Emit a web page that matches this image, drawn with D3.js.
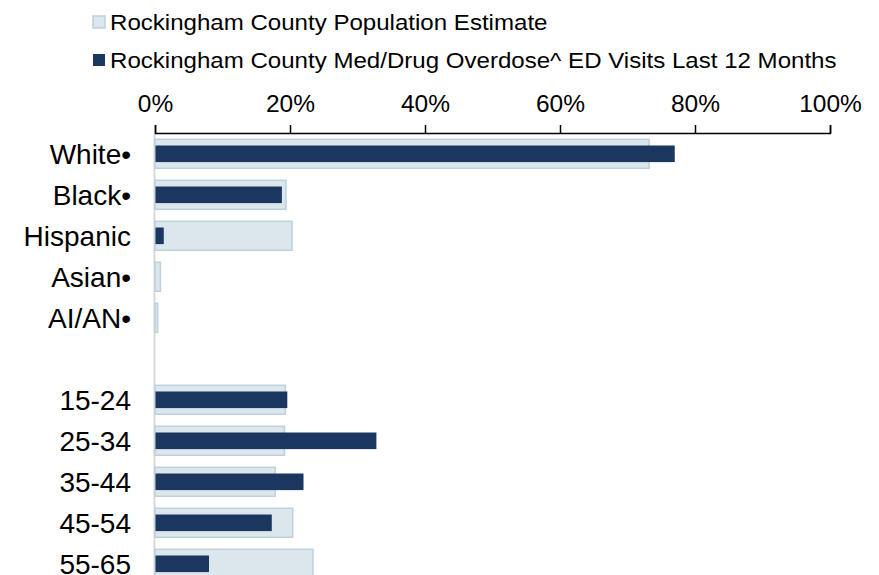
<!DOCTYPE html>
<html>
<head>
<meta charset="utf-8">
<script src="https://cdn.jsdelivr.net/npm/d3@7"></script>
<style>
  body { margin: 0; background: #fff; }
  text { font-family: "Liberation Sans", Arial, sans-serif; }
</style>
</head>
<body>
<script>
var width = 879, height = 575;

// categories, "" row is the gap between race and age groups
var categories = ["White•", "Black•", "Hispanic", "Asian•", "AI/AN•", "", "15-24", "25-34", "35-44", "45-54", "55-65"];
var populationPct = [73.2, 19.4, 20.3, 0.8, 0.4, null, 19.3, 19.2, 17.8, 20.4, 23.4];
var overdosePct = [77.0, 18.8, 1.3, 0, 0, null, 19.6, 32.8, 22.0, 17.3, 8.0];
var seriesNames = ["Rockingham County Population Estimate", "Rockingham County Med/Drug Overdose^ ED Visits Last 12 Months"];
var xTicks = [0, 20, 40, 60, 80, 100];

var lightFill = "#dce6ed", lightStroke = "#bdd0dc", darkFill = "#1b375f";

var svg = d3.select("body").append("svg").attr("width", width).attr("height", height);

var scaleX = d3.scaleLinear().domain([0, 100]).range([155, 830]);
var scaleY = d3.scaleBand().domain(categories.map(function(d, i){ return i; })).range([133.3, 133.3 + 41 * categories.length]).padding(0);

// legend
var legend = svg.selectAll("g.legend").data(seriesNames).enter().append("g")
    .attr("transform", function(d, i){ return "translate(92," + (22 + i * 38) + ")"; });
legend.append("rect").attr("x", 1).attr("y", -6).attr("width", 12).attr("height", 12)
    .attr("fill", function(d, i){ return i == 0 ? lightFill : darkFill; })
    .attr("stroke", function(d, i){ return i == 0 ? lightStroke : "none"; })
    .attr("stroke-width", 1.5);
// the legend text in the source is a bit wide, so stretch it sideways
legend.append("text").attr("transform", "translate(18,8) scale(1.095,1)")
    .attr("font-size", "22px").attr("fill", "#000").text(function(d){ return d; });

// vertical category axis line
svg.append("line").attr("x1", 154.5).attr("x2", 154.5).attr("y1", 133).attr("y2", height)
    .attr("stroke", "#d9d9d9").attr("stroke-width", 2);

// population bars (wide, light)
var band = scaleY.bandwidth();
svg.selectAll("rect.pop").data(populationPct.map(function(v, i){ return {v: v, i: i}; }).filter(function(d){ return d.v != null; }))
    .enter().append("rect").attr("class", "pop")
    .attr("x", scaleX(0))
    .attr("y", function(d){ return scaleY(d.i) + band / 2 - 14.5; })
    .attr("width", function(d){ return scaleX(d.v) - scaleX(0); })
    .attr("height", 29)
    .attr("fill", lightFill).attr("stroke", lightStroke).attr("stroke-width", 1.5);

// overdose bars (narrow, dark)
svg.selectAll("rect.od").data(overdosePct.map(function(v, i){ return {v: v, i: i}; }).filter(function(d){ return d.v; }))
    .enter().append("rect").attr("class", "od")
    .attr("x", scaleX(0) + 0.5)
    .attr("y", function(d){ return scaleY(d.i) + band / 2 - 8.3; })
    .attr("width", function(d){ return scaleX(d.v) - scaleX(0) - 0.5; })
    .attr("height", 16.6)
    .attr("fill", darkFill);

// category labels
svg.selectAll("text.cat").data(categories).enter().append("text").attr("class", "cat")
    .attr("x", 131)
    .attr("y", function(d, i){ return scaleY(i) + band / 2; })
    .attr("dy", "0.35em")
    .attr("text-anchor", "end")
    .attr("font-size", "28px")
    .attr("fill", "#000")
    .text(function(d){ return d; });

// top axis
var axis = svg.append("g").attr("transform", "translate(0,133)")
    .call(d3.axisTop(scaleX).tickValues(xTicks).tickSize(8).tickPadding(13).tickFormat(function(d){ return d + "%"; }));
axis.select(".domain").attr("stroke", "#000").attr("stroke-width", 1.5);
axis.selectAll(".tick line").attr("stroke", "#000").attr("stroke-width", 1.5);
axis.selectAll(".tick text").attr("font-size", "24.5px").attr("fill", "#000").attr("font-family", "Liberation Sans, Arial, sans-serif");
</script>
</body>
</html>
